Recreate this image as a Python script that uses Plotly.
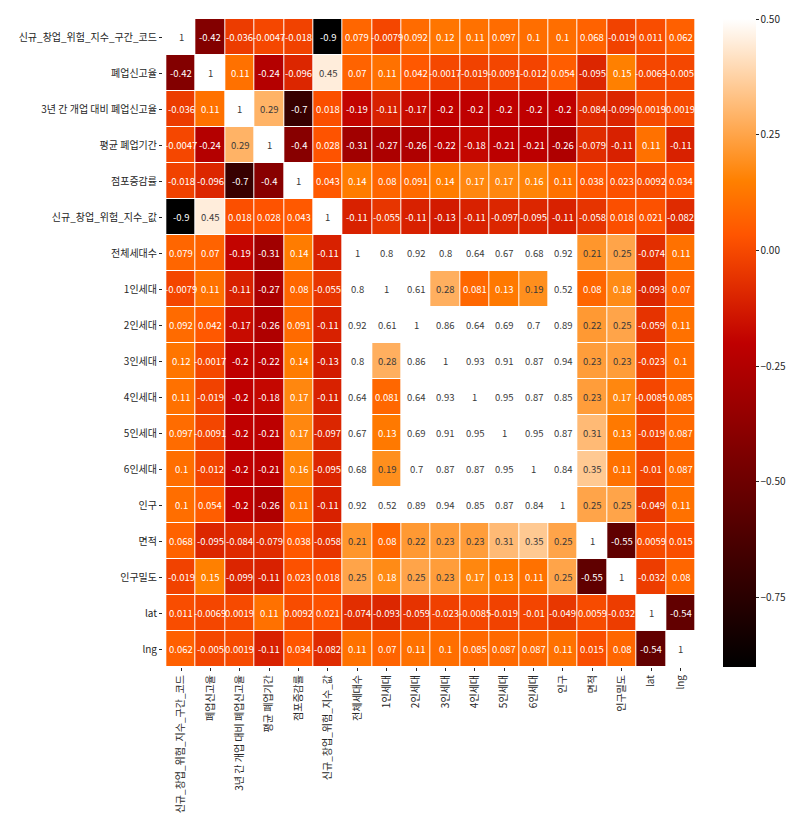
import plotly.graph_objects as go

labels = [
    "신규_창업_위험_지수_구간_코드", "폐업신고율", "3년 간 개업 대비 폐업신고율", "평균 폐업기간",
    "점포증감률", "신규_창업_위험_지수_값", "전체세대수", "1인세대", "2인세대", "3인세대",
    "4인세대", "5인세대", "6인세대", "인구", "면적", "인구밀도", "lat", "lng",
]

corr_values = [
    [1, -0.42, -0.036, -0.0047, -0.018, -0.9, 0.079, -0.0079, 0.092, 0.12, 0.11, 0.097, 0.1, 0.1, 0.068, -0.019, 0.011, 0.062],
    [-0.42, 1, 0.11, -0.24, -0.096, 0.45, 0.07, 0.11, 0.042, -0.0017, -0.019, -0.0091, -0.012, 0.054, -0.095, 0.15, -0.0069, -0.005],
    [-0.036, 0.11, 1, 0.29, -0.7, 0.018, -0.19, -0.11, -0.17, -0.2, -0.2, -0.2, -0.2, -0.2, -0.084, -0.099, 0.0019, 0.0019],
    [-0.0047, -0.24, 0.29, 1, -0.4, 0.028, -0.31, -0.27, -0.26, -0.22, -0.18, -0.21, -0.21, -0.26, -0.079, -0.11, 0.11, -0.11],
    [-0.018, -0.096, -0.7, -0.4, 1, 0.043, 0.14, 0.08, 0.091, 0.14, 0.17, 0.17, 0.16, 0.11, 0.038, 0.023, 0.0092, 0.034],
    [-0.9, 0.45, 0.018, 0.028, 0.043, 1, -0.11, -0.055, -0.11, -0.13, -0.11, -0.097, -0.095, -0.11, -0.058, 0.018, 0.021, -0.082],
    [0.079, 0.07, -0.19, -0.31, 0.14, -0.11, 1, 0.8, 0.92, 0.8, 0.64, 0.67, 0.68, 0.92, 0.21, 0.25, -0.074, 0.11],
    [-0.0079, 0.11, -0.11, -0.27, 0.08, -0.055, 0.8, 1, 0.61, 0.28, 0.081, 0.13, 0.19, 0.52, 0.08, 0.18, -0.093, 0.07],
    [0.092, 0.042, -0.17, -0.26, 0.091, -0.11, 0.92, 0.61, 1, 0.86, 0.64, 0.69, 0.7, 0.89, 0.22, 0.25, -0.059, 0.11],
    [0.12, -0.0017, -0.2, -0.22, 0.14, -0.13, 0.8, 0.28, 0.86, 1, 0.93, 0.91, 0.87, 0.94, 0.23, 0.23, -0.023, 0.1],
    [0.11, -0.019, -0.2, -0.18, 0.17, -0.11, 0.64, 0.081, 0.64, 0.93, 1, 0.95, 0.87, 0.85, 0.23, 0.17, -0.0085, 0.085],
    [0.097, -0.0091, -0.2, -0.21, 0.17, -0.097, 0.67, 0.13, 0.69, 0.91, 0.95, 1, 0.95, 0.87, 0.31, 0.13, -0.019, 0.087],
    [0.1, -0.012, -0.2, -0.21, 0.16, -0.095, 0.68, 0.19, 0.7, 0.87, 0.87, 0.95, 1, 0.84, 0.35, 0.11, -0.01, 0.087],
    [0.1, 0.054, -0.2, -0.26, 0.11, -0.11, 0.92, 0.52, 0.89, 0.94, 0.85, 0.87, 0.84, 1, 0.25, 0.25, -0.049, 0.11],
    [0.068, -0.095, -0.084, -0.079, 0.038, -0.058, 0.21, 0.08, 0.22, 0.23, 0.23, 0.31, 0.35, 0.25, 1, -0.55, 0.0059, 0.015],
    [-0.019, 0.15, -0.099, -0.11, 0.023, 0.018, 0.25, 0.18, 0.25, 0.23, 0.17, 0.13, 0.11, 0.25, -0.55, 1, -0.032, 0.08],
    [0.011, -0.0069, 0.0019, 0.11, 0.0092, 0.021, -0.074, -0.093, -0.059, -0.023, -0.0085, -0.019, -0.01, -0.049, 0.0059, -0.032, 1, -0.54],
    [0.062, -0.005, 0.0019, -0.11, 0.034, -0.082, 0.11, 0.07, 0.11, 0.1, 0.085, 0.087, 0.087, 0.11, 0.015, 0.08, -0.54, 1],
]

cbar_ticks = [0.5, 0.25, 0.0, -0.25, -0.5, -0.75]

ZMIN, ZMAX = -0.9, 0.5

# matplotlib "gist_heat" colormap (piecewise linear)
colorscale = [
    [0.0, "rgb(0,0,0)"],
    [0.5, "rgb(191,0,0)"],
    [2 / 3, "rgb(255,85,0)"],
    [0.75, "rgb(255,128,0)"],
    [1.0, "rgb(255,255,255)"],
]


def gist_heat(x):
    x = min(max(x, 0.0), 1.0)
    r = min(1.0, 1.5 * x)
    g = max(0.0, 2 * x - 1)
    b = max(0.0, 4 * x - 3)
    return r, g, b


def luminance(rgb):
    out = []
    for c in rgb:
        out.append(c / 12.92 if c <= 0.03928 else ((c + 0.055) / 1.055) ** 2.4)
    return 0.2126 * out[0] + 0.7152 * out[1] + 0.0722 * out[2]


font_family = "Noto Sans CJK KR, DejaVu Sans, sans-serif"
tick_size = 10

fig = go.Figure(
    go.Heatmap(
        z=corr_values,
        x=labels,
        y=labels,
        zmin=ZMIN,
        zmax=ZMAX,
        colorscale=colorscale,
        xgap=1,
        ygap=1,
        hoverongaps=False,
        colorbar=dict(
            thickness=33,
            len=1.0,
            lenmode="fraction",
            x=1.0487,
            xanchor="left",
            xpad=0,
            y=0.5,
            yanchor="middle",
            ypad=0,
            outlinewidth=0,
            tickvals=cbar_ticks,
            tickformat=".2f",
            ticks="outside",
            ticklen=3,
            tickcolor="#262626",
            tickfont=dict(size=tick_size, color="#262626", family=font_family),
        ),
    )
)

annotations = []
for i, row in enumerate(corr_values):
    for j, v in enumerate(row):
        x = (v - ZMIN) / (ZMAX - ZMIN)
        lum = luminance(gist_heat(x))
        color = "#3a3a3a" if lum > 0.40 else "#ffffff"
        annotations.append(
            dict(
                x=labels[j],
                y=labels[i],
                text=format(v, ".2g"),
                showarrow=False,
                font=dict(size=9.5, color=color, family=font_family),
                xref="x",
                yref="y",
            )
        )

fig.update_layout(
    width=800,
    height=817,
    margin=dict(l=155, r=111, t=11, b=158, autoexpand=False),
    paper_bgcolor="white",
    plot_bgcolor="white",
    annotations=annotations,
    font=dict(family=font_family, color="#262626"),
)
fig.update_xaxes(
    automargin=False,
    tickangle=-90,
    ticks="outside",
    ticklen=3,
    tickcolor="#262626",
    tickfont=dict(size=tick_size, color="#262626"),
    showgrid=False,
    zeroline=False,
    showline=False,
)
fig.update_yaxes(
    automargin=False,
    autorange="reversed",
    ticks="outside",
    ticklen=3,
    tickcolor="#262626",
    tickfont=dict(size=tick_size, color="#262626"),
    showgrid=False,
    zeroline=False,
    showline=False,
)

fig.write_html("out.html")
